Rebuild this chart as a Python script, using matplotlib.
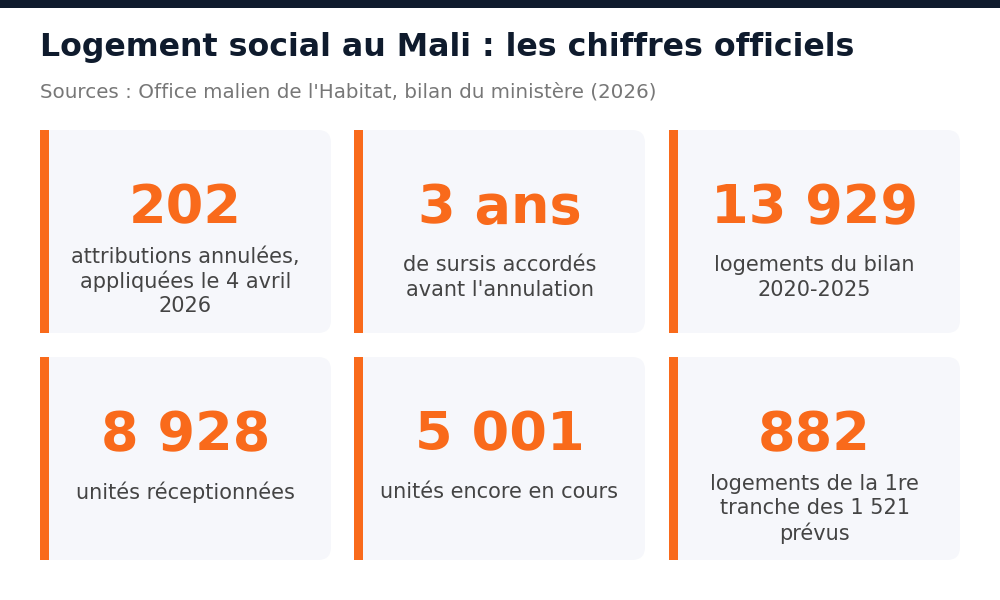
import textwrap
import matplotlib.pyplot as plt
from matplotlib.patches import FancyBboxPatch, Rectangle

# chiffres et libellés des cartes
valeurs = ["202", "3 ans", "13 929", "8 928", "5 001", "882"]
libelles = [
    "attributions annulées, appliquées le 4 avril 2026",
    "de sursis accordés avant l'annulation",
    "logements du bilan 2020-2025",
    "unités réceptionnées",
    "unités encore en cours",
    "logements de la 1re tranche des 1 521 prévus",
]
titre = "Logement social au Mali : les chiffres officiels"
sources = "Sources : Office malien de l'Habitat, bilan du ministère (2026)"

ORANGE = "#f96a1b"
FOND = "#f6f7fb"
NAVY = "#0f1b2d"

fig = plt.figure(figsize=(10, 6), dpi=100)
ax = fig.add_axes([0, 0, 1, 1])
ax.set_xlim(0, 1000)
ax.set_ylim(600, 0)
ax.axis("off")

ax.add_patch(Rectangle((0, 0), 1000, 8, color=NAVY, lw=0))
ax.text(40, 56, titre, fontsize=22.8, fontweight="bold", color=NAVY, va="baseline")
ax.text(40, 97, sources, fontsize=14.3, color="#777777", va="baseline")

cols = [40, 354, 669]
rows = [130, 357]
w, h = 291, 203
r = 13
for i, (val, lib) in enumerate(zip(valeurs, libelles)):
    x0 = cols[i % 3]
    y0 = rows[i // 3]
    ax.add_patch(FancyBboxPatch((x0 + r, y0 + r), w - 2 * r, h - 2 * r,
                                boxstyle=f"round,pad={r}", fc=FOND, ec="none"))
    ax.add_patch(Rectangle((x0, y0), 2 * r, h, fc=FOND, ec="none"))
    ax.add_patch(Rectangle((x0, y0), 9, h, fc=ORANGE, ec="none"))
    cx = x0 + w / 2
    ax.text(cx, y0 + 78, val, fontsize=39, fontweight="bold", color=ORANGE,
            ha="center", va="center")
    lignes = textwrap.wrap(lib, 22)
    y1 = y0 + 135 - (8 if len(lignes) >= 3 else 0)
    for k, ligne in enumerate(lignes):
        ax.text(cx, y1 + k * 24.5, ligne, fontsize=15, color="#444444",
                ha="center", va="center")

fig.savefig("out.png", dpi=100)
